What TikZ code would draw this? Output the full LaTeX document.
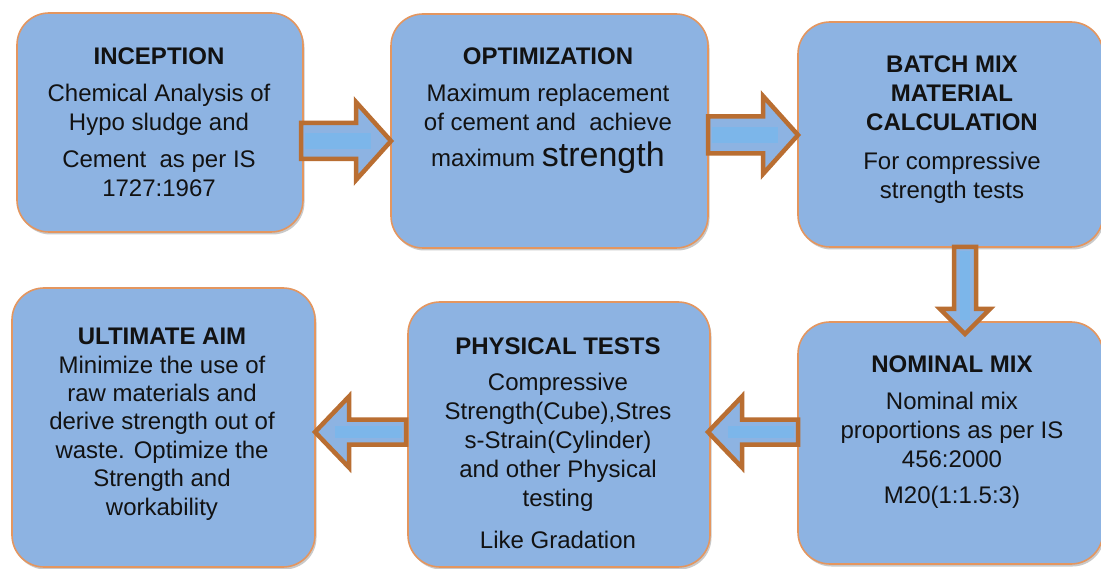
\documentclass[tikz,border=0pt]{standalone}
\usepackage{fontspec}
\setmainfont{Liberation Sans}
\usetikzlibrary{calc,shadows}

\definecolor{boxblue}{RGB}{141,179,226}
\definecolor{boxedge}{RGB}{228,150,95}
\definecolor{arrowedge}{RGB}{185,110,50}
\definecolor{shaftblue}{RGB}{124,182,234}
\definecolor{ink}{RGB}{18,18,18}

\tikzset{
  stage/.style={draw=boxedge, line width=1.6pt, fill=boxblue, rounded corners=32pt,
    inner sep=0pt, outer sep=0pt,
    drop shadow={shadow xshift=1.5pt, shadow yshift=-2.5pt, opacity=0.35, fill=black!60}},
  stagetext/.style={text=ink, align=center, inner sep=0pt, anchor=north,
    font=\fontsize{24}{29}\selectfont},
  barrow/.style={draw=arrowedge, line width=4.5pt, fill=boxblue, line join=miter},
}

% Block arrow from tail #1 to tip #2:
% #3 shaft half width, #4 head half width, #5 head length,
% #6 half width of the light band, #7 distance of the band's end from the tip
\newcommand\blockarrow[7]{%
  \coordinate (ah) at ($(#2)!#5!(#1)$);
  \draw[barrow] ($(#1)!#3!90:(#2)$) -- ($(ah)!#3!90:(#2)$) -- ($(ah)!#4!90:(#2)$)
    -- (#2) -- ($(ah)!#4!-90:(#2)$) -- ($(ah)!#3!-90:(#2)$) -- ($(#1)!#3!-90:(#2)$) -- cycle;
  \coordinate (sa) at ($(#1)!4pt!(#2)$);
  \coordinate (sb) at ($(#2)!#7!(#1)$);
  \fill[shaftblue] ($(sa)!#6!90:(#2)$) -- ($(sb)!#6!90:(#2)$)
    -- ($(sb)!#6!-90:(#2)$) -- ($(sa)!#6!-90:(#2)$) -- cycle;
}

\begin{document}
\begin{tikzpicture}[x=1pt, y=-1pt]
  \useasboundingbox (0,0) rectangle (1101,569);
  \fill[white] (0,0) rectangle (1101,569);

  % stage boxes
  \node[stage, minimum width=286pt, minimum height=219pt] (b1) at (160,122.5) {};
  \node[stage, minimum width=317pt, minimum height=234pt] (b2) at (549.5,131) {};
  \node[stage, minimum width=305pt, minimum height=225pt] (b3) at (950.5,134.5) {};
  \node[stage, minimum width=305pt, minimum height=242pt] (b4) at (950.5,443) {};
  \node[stage, minimum width=302pt, minimum height=265pt] (b5) at (559,434.5) {};
  \node[stage, minimum width=303pt, minimum height=279pt] (b6) at (163.5,427.5) {};

  % texts
  \node[stagetext] (t1) at (159,48) {\textbf{INCEPTION}\\[8pt]
    Chemical Analysis of\\ Hypo sludge and\\[8pt] Cement\ \ as per IS\\ 1727:1967};
  \node[stagetext] (t2) at (548,48) {\textbf{OPTIMIZATION}\\[8pt]
    Maximum replacement\\ of cement and\ \ achieve\\[7pt]
    maximum {\fontsize{34}{34}\selectfont strength}};
  \node[stagetext] (t3) at (952,56) {\textbf{BATCH MIX}\\ \textbf{MATERIAL}\\
    \textbf{CALCULATION}\\[10pt] For compressive\\ strength tests};
  \node[stagetext] (t4) at (952,356) {\textbf{NOMINAL MIX}\\[8pt]
    Nominal mix\\ proportions as per IS\\ 456:2000\\[7pt] M20(1:1.5:3)};
  \node[stagetext] (t5) at (558,338) {\textbf{PHYSICAL TESTS}\\[7pt]
    Compressive\\ Strength(Cube),Stres\\ s-Strain(Cylinder)\\
    and other Physical\\ testing\\[13pt] Like Gradation};
  \node[stagetext, font=\fontsize{24}{28.4}\selectfont] (t6) at (162,328)
    {\textbf{ULTIMATE AIM}\\ Minimize the use of\\ raw materials and\\
    derive strength out of\\ waste. Optimize the\\ Strength and\\ workability};

  % flow arrows
  \coordinate (a1s) at ([xshift=-2pt]b1.east |- 0,141);
  \coordinate (a1e) at (b2.west |- 0,141);
  \blockarrow{a1s}{a1e}{18pt}{39pt}{35pt}{8pt}{20pt}

  \coordinate (a2s) at (b2.east |- 0,135);
  \coordinate (a2e) at (b3.west |- 0,135);
  \blockarrow{a2s}{a2e}{18.5pt}{39pt}{35pt}{8pt}{20pt}

  \coordinate (a3s) at (b3.south -| 965,0);
  \coordinate (a3e) at ([yshift=-12pt]b4.north -| 965,0);
  \blockarrow{a3s}{a3e}{11pt}{25pt}{25pt}{5pt}{14pt}

  \coordinate (a4s) at (b4.west |- 0,432);
  \coordinate (a4e) at ([xshift=-2pt]b5.east |- 0,432);
  \blockarrow{a4s}{a4e}{12.5pt}{35.5pt}{34pt}{6pt}{20pt}

  \coordinate (a5s) at ([xshift=-2pt]b5.west |- 0,432);
  \coordinate (a5e) at (b6.east |- 0,432);
  \blockarrow{a5s}{a5e}{12.5pt}{35.5pt}{34pt}{6pt}{20pt}
\end{tikzpicture}
\end{document}
